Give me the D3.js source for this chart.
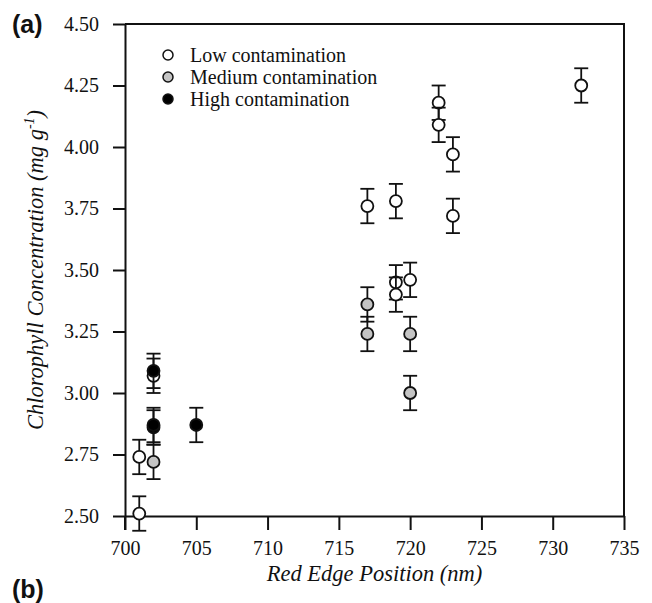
<!DOCTYPE html>
<html>
<head>
<meta charset="utf-8">
<script src="https://cdn.jsdelivr.net/npm/d3@7"></script>
<style>
  body { margin: 0; background: #fff; }
</style>
</head>
<body>
<svg id="chart" width="652" height="603"></svg>
<script>
// [red edge position (nm), chlorophyll (mg/g), error]
const lowPoints = [
    [701, 2.51, 0.07], [701, 2.74, 0.07], [702, 3.07, 0.07],
    [717, 3.76, 0.07], [719, 3.78, 0.07], [719, 3.45, 0.07], [719, 3.40, 0.07],
    [720, 3.46, 0.07], [722, 4.18, 0.07], [722, 4.09, 0.07],
    [723, 3.97, 0.07], [723, 3.72, 0.07], [732, 4.25, 0.07]
];
const mediumPoints = [
    [702, 2.72, 0.07], [717, 3.36, 0.07], [717, 3.24, 0.07],
    [720, 3.24, 0.07], [720, 3.00, 0.07]
];
const highPoints = [
    [702, 3.09, 0.07], [702, 2.86, 0.07], [702, 2.87, 0.07], [705, 2.87, 0.07]
];
const xTicks = [700, 705, 710, 715, 720, 725, 730, 735];
const yTicks = [2.50, 2.75, 3.00, 3.25, 3.50, 3.75, 4.00, 4.25, 4.50];
const seriesNames = ["Low contamination", "Medium contamination", "High contamination"];
const seriesFills = ["#ffffff", "#c4c4c4", "#000000"];

const serif = "'Liberation Serif', 'Times New Roman', serif";
const sans = "'Liberation Sans', Arial, sans-serif";

const margin = { top: 24, right: 28, bottom: 87, left: 125 };
const width = 652 - margin.left - margin.right;
const height = 603 - margin.top - margin.bottom;

const svg = d3.select("#chart");
const g = svg.append("g").attr("transform", `translate(${margin.left},${margin.top})`);

const x = d3.scaleLinear().domain([700, 735]).range([0, width]);
const y = d3.scaleLinear().domain([2.5, 4.5]).range([height, 0]);

// frame (top + right)
g.append("path")
    .attr("d", `M0,0H${width}V${height}`)
    .attr("fill", "none").attr("stroke", "#111").attr("stroke-width", 2);

const yAxis = g.append("g")
    .call(d3.axisLeft(y).tickValues(yTicks).tickFormat(d3.format(".2f")).tickSize(12).tickSizeOuter(0).tickPadding(14));
const xAxis = g.append("g")
    .attr("transform", `translate(0,${height})`)
    .call(d3.axisBottom(x).tickValues(xTicks).tickFormat(d3.format("d")).tickSize(14).tickSizeOuter(0).tickPadding(11));

[yAxis, xAxis].forEach(ax => {
    ax.attr("font-family", serif).attr("font-size", 20);
    ax.select(".domain").attr("stroke", "#111").attr("stroke-width", 2);
    ax.selectAll(".tick line").attr("stroke", "#111").attr("stroke-width", 2);
    ax.selectAll(".tick text").attr("fill", "#111");
});
// left axis runs on past the bottom axis
g.append("line").attr("x1", 0).attr("x2", 0).attr("y1", height).attr("y2", height + 14)
    .attr("stroke", "#111").attr("stroke-width", 2);

function drawSeries(data, fill) {
    const grp = g.append("g");
    const capW = 7;
    data.forEach(d => {
        const cx = x(d[0]), cy = y(d[1]);
        const y1 = y(d[1] + d[2]), y2 = y(d[1] - d[2]);
        grp.append("line").attr("x1", cx).attr("x2", cx).attr("y1", y1).attr("y2", y2)
            .attr("stroke", "#111").attr("stroke-width", 1.8);
        [y1, y2].forEach(yy => grp.append("line")
            .attr("x1", cx - capW).attr("x2", cx + capW).attr("y1", yy).attr("y2", yy)
            .attr("stroke", "#111").attr("stroke-width", 1.8));
        grp.append("circle").attr("cx", cx).attr("cy", cy).attr("r", 6)
            .attr("fill", fill).attr("stroke", "#111").attr("stroke-width", 1.8);
    });
}
drawSeries(lowPoints, seriesFills[0]);
drawSeries(mediumPoints, seriesFills[1]);
drawSeries(highPoints, seriesFills[2]);

// legend
const legend = g.append("g").attr("transform", "translate(43,31)");
seriesNames.forEach((name, i) => {
    legend.append("circle").attr("cx", 0).attr("cy", i * 22).attr("r", 5)
        .attr("fill", seriesFills[i]).attr("stroke", "#111").attr("stroke-width", 1.5);
    legend.append("text").attr("x", 22).attr("y", i * 22).attr("dy", "0.33em")
        .attr("font-family", serif).attr("font-size", 20).attr("fill", "#111").text(name);
});

// axis titles
svg.append("text")
    .attr("x", margin.left + width / 2).attr("y", 581)
    .attr("text-anchor", "middle")
    .attr("font-family", serif).attr("font-size", 22.5).attr("font-style", "italic").attr("fill", "#111")
    .text("Red Edge Position (nm)");

const yt = svg.append("text")
    .attr("transform", `translate(43,${margin.top + height / 2}) rotate(-90)`)
    .attr("text-anchor", "middle")
    .attr("font-family", serif).attr("font-size", 22.5).attr("font-style", "italic").attr("fill", "#111");
yt.append("tspan").text("Chlorophyll Concentration (mg g");
yt.append("tspan").attr("dy", -9).attr("font-size", 14).text("-1");
yt.append("tspan").attr("dy", 9).text(")");

// panel labels
svg.append("text").attr("x", 12).attr("y", 33)
    .attr("font-family", sans).attr("font-weight", "bold").attr("font-size", 25).attr("fill", "#111")
    .text("(a)");
svg.append("text").attr("x", 12).attr("y", 598)
    .attr("font-family", sans).attr("font-weight", "bold").attr("font-size", 25).attr("fill", "#111")
    .text("(b)");
</script>
</body>
</html>
